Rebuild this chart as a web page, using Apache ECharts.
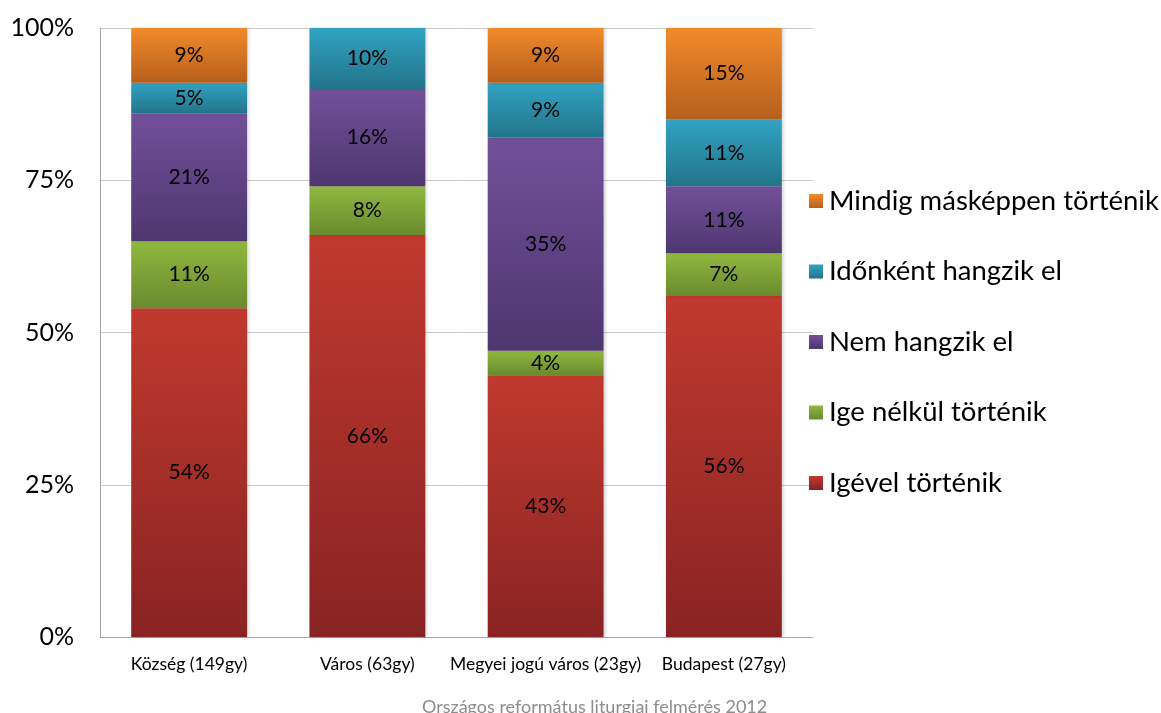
<!DOCTYPE html>
<html>
<head>
<meta charset="utf-8">
<title>Liturgiai felmérés 2012</title>
<script src="https://cdn.jsdelivr.net/npm/echarts@6/dist/echarts.min.js"></script>
<style>
  html, body { margin: 0; padding: 0; background: #fff; }
  #chart { width: 1161px; height: 713px; }
</style>
</head>
<body>
<div id="chart"></div>
<script>
// Settlement types (x axis)
const categories = ['Község (149gy)', 'Város (63gy)', 'Megyei jogú város (23gy)', 'Budapest (27gy)'];

// Percentages per answer, bottom to top of each stack
const igevel      = [54, 66, 43, 56];
const igeNelkul   = [11, 8, 4, 7];
const nemHangzik  = [21, 16, 35, 11];
const idonkent    = [5, 10, 9, 11];
const mindigMas   = [9, 0, 9, 15];

const yTicks = [0, 25, 50, 75, 100];

const FONT = 'Lato, "Open Sans", sans-serif';

function grad(top, bottom) {
  return new echarts.graphic.LinearGradient(0, 0, 0, 1, [
    { offset: 0, color: top },
    { offset: 1, color: bottom }
  ]);
}

const seriesDefs = [
  { name: 'Igével történik',           data: igevel,     top: '#C1392F', bottom: '#892323' },
  { name: 'Ige nélkül történik',       data: igeNelkul,  top: '#90B83F', bottom: '#6A8A2E' },
  { name: 'Nem hangzik el',            data: nemHangzik, top: '#72509A', bottom: '#4E366F' },
  { name: 'Időnként hangzik el',       data: idonkent,   top: '#31A3C3', bottom: '#227489' },
  { name: 'Mindig másképpen történik', data: mindigMas,  top: '#F28A2A', bottom: '#B65F1D' }
];

const series = seriesDefs.map(d => ({
  name: d.name,
  type: 'bar',
  stack: 'total',
  barWidth: '65%',
  data: d.data,
  itemStyle: {
    color: grad(d.top, d.bottom),
    shadowColor: 'rgba(0,0,0,0.18)',
    shadowBlur: 3,
    shadowOffsetX: 2
  },
  label: {
    show: true,
    position: 'inside',
    color: '#000',
    fontFamily: FONT,
    fontSize: 21,
    formatter: p => (p.value > 0 ? p.value + '%' : '')
  },
  emphasis: { disabled: true }
}));

const chart = echarts.init(document.getElementById('chart'), null, { renderer: 'canvas' });
chart.setOption({
  animation: false,
  backgroundColor: '#fff',
  title: {
    text: 'Országos református liturgiai felmérés 2012',
    left: 417,
    top: 693,
    textStyle: { color: '#8C8C8C', fontFamily: FONT, fontSize: 18, fontWeight: 'normal' }
  },
  legend: {
    orient: 'vertical',
    left: 804,
    top: 180,
    itemWidth: 14,
    itemHeight: 14,
    itemGap: 38.5,
    icon: 'rect',
    data: seriesDefs.map(d => d.name).reverse(),
    textStyle: { color: '#000', fontFamily: FONT, fontSize: 27.5, lineHeight: 32, padding: [0, 0, 0, 1] }
  },
  grid: { left: 100, right: 348, top: 28, bottom: 76, containLabel: false },
  xAxis: {
    type: 'category',
    data: categories,
    axisLine: { show: true, lineStyle: { color: '#A6A6A6', width: 1 } },
    axisTick: { show: false },
    axisLabel: { color: '#000', fontFamily: FONT, fontSize: 17.5, margin: 18, interval: 0 }
  },
  yAxis: {
    type: 'value',
    min: yTicks[0],
    max: yTicks[yTicks.length - 1],
    interval: 25,
    axisLine: { show: true, lineStyle: { color: '#A6A6A6', width: 1 } },
    axisTick: { show: false },
    splitLine: { lineStyle: { color: '#C8C8C8', width: 1 } },
    axisLabel: {
      color: '#000', fontFamily: FONT, fontSize: 25, margin: 26,
      formatter: v => v + '%'
    }
  },
  series: series
});
</script>
</body>
</html>
